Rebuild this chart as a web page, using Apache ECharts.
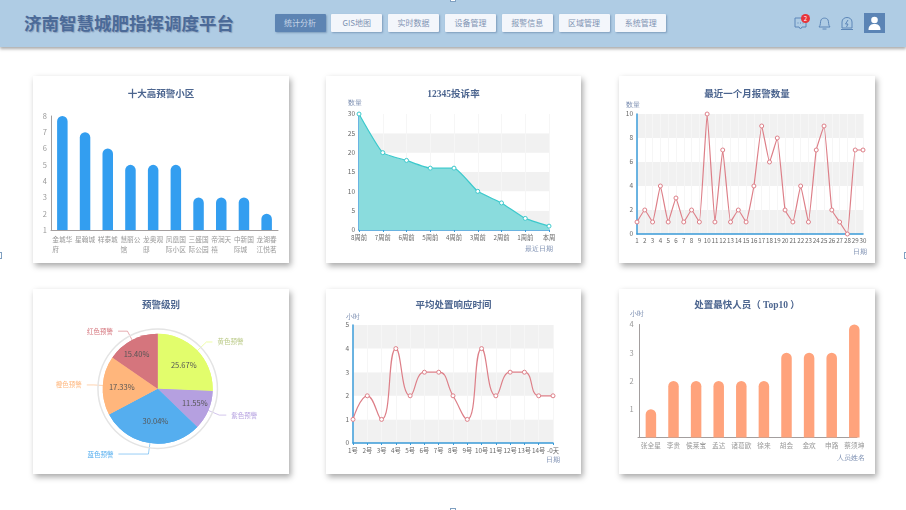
<!DOCTYPE html>
<html>
<head>
<meta charset="utf-8">
<script src="https://cdn.jsdelivr.net/npm/echarts@6/dist/echarts.min.js"></script>
<style>
html, body { margin: 0; padding: 0; background: #fff; width: 906px; height: 510px; overflow: hidden; font-family: "Noto Sans CJK SC", sans-serif; }
#head { position: absolute; left: 0; top: 0; width: 906px; height: 47px; background: #afcce4; box-shadow: 0 2px 3px #aaa; }
#logo { position: absolute; left: 24px; top: 10px; font-size: 17.5px; line-height: 26px; font-weight: bold; color: #4b6a98; text-shadow: 1px 1px 1px #8aa0bd; white-space: nowrap; }
.btn { position: absolute; top: 14px; width: 51px; height: 18px; line-height: 18px; text-align: center; font-size: 8px; color: #7f93b3; background: #f3f6fb; border-radius: 1px; box-shadow: 1px 1px 2px #7d9cbc; }
.btn.on { background: #5d84b3; color: #c6d6e8; }
.card { position: absolute; width: 256px; height: 187px; background: #fff; box-shadow: 2px 3px 6px #a8a8a8; }
.mark { position: absolute; background: #fff; border: 1px solid #7f9fc0; box-sizing: border-box; }
svg { position: absolute; }
#badge { position: absolute; left: 801px; top: 14px; width: 9px; height: 9px; line-height: 9px; border-radius: 5px; background: #e8343a; color: #fff; font-size: 6px; text-align: center; }
#user { position: absolute; left: 864px; top: 13px; width: 21px; height: 20px; background: #5b84b5; }
</style>
</head>
<body>
<div id="head">
  <div id="logo">济南智慧城肥指挥调度平台</div>
  <div id="menu"></div>
  <svg style="left:794px;top:15px" width="14" height="16" viewBox="0 0 14 16"><path d="M1 3h11v9H8l-1.500 2L5 12H1z" fill="none" stroke="#5c86b8" stroke-width="1"/><path d="M3.500 8h1M6 8h1M8.500 8h1" stroke="#5c86b8"/></svg>
  <svg style="left:817px;top:15px" width="15" height="16" viewBox="0 0 15 16"><path d="M2 12c2-2 1-5 2-7 1-2.500 6-2.500 7 0 1 2 0 5 2 7z" fill="none" stroke="#5c86b8" stroke-width="1"/><path d="M5.500 14h4" stroke="#5c86b8"/></svg>
  <svg style="left:840px;top:15px" width="14" height="16" viewBox="0 0 14 16"><path d="M2 13V7c0-6 10-6 10 0v6zM1 14.500h12" fill="none" stroke="#5c86b8"/><path d="M8 5L5.500 9H8L6.500 12" fill="none" stroke="#5c86b8"/></svg>
  <div id="badge">2</div>
  <div id="user"><svg style="left:4px;top:3px" width="13" height="14" viewBox="0 0 13 14"><circle cx="6.500" cy="4" r="3.300" fill="#fff"/><path d="M0.500 14c0-5 3-6 6-6s6 1 6 6z" fill="#fff"/></svg></div>
</div>
<div class="mark" style="left:450px;top:-2px;width:6px;height:4px"></div>
<div class="mark" style="left:450px;top:508px;width:6px;height:4px"></div>
<div class="mark" style="left:-2px;top:252px;width:4px;height:7px"></div>
<div class="mark" style="left:904px;top:252px;width:4px;height:7px"></div>
<div class="card" id="c1" style="left:33px;top:76px"></div>
<div class="card" id="c2" style="left:326px;top:76px;width:255px"></div>
<div class="card" id="c3" style="left:619px;top:76px"></div>
<div class="card" id="c4" style="left:33px;top:289px;height:185px"></div>
<div class="card" id="c5" style="left:326px;top:289px;width:255px;height:185px"></div>
<div class="card" id="c6" style="left:619px;top:289px;height:185px"></div>
<script>
var menuNames = ['统计分析', 'GIS地图', '实时数据', '设备管理', '报警信息', '区域管理', '系统管理'];

var estateNames = ['金城华府', '星翰城', '祥泰城', '慧丽公馆', '龙奥观邸', '凤凰国际小区', '三盛国际公园', '帝润天禧', '中新国际城', '龙湖春江悦茗'];
var estateValues = [8, 7, 6, 5, 5, 5, 3, 3, 3, 2];

var weekNames = ['8周前', '7周前', '6周前', '5周前', '4周前', '3周前', '2周前', '1周前', '本周'];
var weekValues = [30, 20, 18, 16, 16, 10, 7, 3, 1];

var monthDays = ['1', '2', '3', '4', '5', '6', '7', '8', '9', '10', '11', '12', '13', '14', '15', '16', '17', '18', '19', '20', '21', '22', '23', '24', '25', '26', '27', '28', '29', '30'];
var monthValues = [1, 2, 1, 4, 1, 3, 1, 2, 1, 10, 1, 7, 1, 2, 1, 4, 9, 6, 8, 2, 1, 4, 1, 7, 9, 2, 1, 0, 7, 7];

var levelNames = ['黄色预警', '紫色预警', '蓝色预警', '橙色预警', '红色预警'];
var levelValues = [25.67, 11.55, 30.04, 17.33, 15.40];

// pie styling, one entry per level
var levelColors = ['#e2fd6c', '#b5a0e0', '#55aeef', '#ffb67c', '#d5757d'];
var levelTextColors = ['#b9c985', '#b5a0e0', '#55aeef', '#ffb67c', '#d5757d'];
var levelLineLengths = [[12.500, 6], [12, 7], [11, 30], [9, 7], [10, 9.400]];
var levelPercentOffsets = [[4, -2], [9, 2], [2, 2], [-5.500, 0], [-7, -8]];

var responseDays = ['1号', '2号', '3号', '4号', '5号', '6号', '7号', '8号', '9号', '10号', '11号', '12号', '13号', '14号', '-0天'];
var responseValues = [1, 2, 1, 4, 2, 3, 3, 2, 1, 4, 2, 3, 3, 2, 2];

var staffNames = ['张全星', '李贵', '侯莱宝', '孟达', '诸葛欧', '徐来', '胡会', '金欢', '申路', '蔡须坤'];
var staffValues = [1, 2, 2, 2, 2, 2, 3, 3, 3, 4];

var fontName = '"Noto Sans CJK SC", sans-serif';
var nameColor = '#7a8db0';

menuNames.forEach(function (name, i) {
    var b = document.createElement('div');
    b.className = i === 0 ? 'btn on' : 'btn';
    b.style.left = (274.5 + i * 56.8) + 'px';
    b.textContent = name;
    document.getElementById('menu').appendChild(b);
});

function makeTitle(text, top) {
    return {
        text: text,
        left: 'center',
        top: top,
        textStyle: { fontFamily: '"Liberation Serif", "Noto Sans CJK SC", serif', fontSize: 9.500, fontWeight: 'bold', color: '#4c658f' }
    };
}

function axisText(color, size) {
    return { color: color, fontSize: size, fontFamily: fontName, margin: 4 };
}

function render(id, option) {
    option.animation = false;
    echarts.init(document.getElementById(id)).setOption(option);
}

// bar charts share the same look
function barSeries(values, color) {
    return {
        type: 'bar',
        data: values,
        barWidth: 10.5,
        itemStyle: { color: color, borderRadius: [6, 6, 0, 0] }
    };
}

// hollow dots on the line charts
function lineSeries(values, color, smooth) {
    return {
        type: 'line',
        data: values,
        smooth: smooth,
        symbol: 'circle',
        symbolSize: 4,
        lineStyle: { color: color, width: 1.2 },
        itemStyle: { color: '#fff', borderColor: color, borderWidth: 1 }
    };
}

render('c1', {
    title: makeTitle('十大高预警小区', 9),
    grid: { left: 18, right: 11, top: 40, bottom: 33, outerBoundsMode: 'none' },
    xAxis: {
        type: 'category',
        data: estateNames,
        axisTick: { show: false },
        axisLine: { lineStyle: { color: '#a39e9e', width: 1 } },
        axisLabel: {
            margin: 4,
            interval: 0,
            // three characters a line, short lines stay on the left
            formatter: function (v) {
                return v.match(/.{1,3}/g).map(function (s) { return '{a|' + s + '}'; }).join('\n');
            },
            rich: { a: { color: '#999', fontSize: 6.700, fontFamily: fontName, lineHeight: 10, align: 'left' } }
        }
    },
    yAxis: {
        type: 'value',
        min: 1,
        max: 8,
        interval: 1,
        splitLine: { show: false },
        axisTick: { show: false },
        axisLine: { show: true, lineStyle: { color: '#a39e9e', width: 1 } },
        axisLabel: axisText('#999', 7.500)
    },
    series: [barSeries(estateValues, '#339ef0')]
});

var complaintSeries = lineSeries(weekValues, '#3cc9cc', 0.15);
complaintSeries.areaStyle = { color: '#8adcdd', opacity: 1 };

render('c2', {
    title: makeTitle('12345投诉率', 9),
    grid: { left: 33, right: 32, top: 38, bottom: 33, outerBoundsMode: 'none' },
    xAxis: {
        type: 'category',
        boundaryGap: false,
        data: weekNames,
        name: '最近日期',
        nameGap: 4,
        nameTextStyle: { color: nameColor, fontSize: 7, align: 'right', verticalAlign: 'top', padding: [16, 0, 0, 0] },
        axisTick: { show: true, length: 2, lineStyle: { color: '#3a9bd8' } },
        axisLine: { lineStyle: { color: '#3a9bd8', width: 1.500 } },
        axisLabel: axisText('#666', 6.300),
        splitLine: { show: true, lineStyle: { color: '#f6f6f6' } }
    },
    yAxis: {
        type: 'value',
        min: 0,
        max: 30,
        interval: 5,
        name: '数量',
        nameGap: 7,
        nameTextStyle: { color: nameColor, fontSize: 7, padding: [0, 0, 0, -8] },
        axisLine: { show: true, lineStyle: { color: '#3a9bd8', width: 1.500 } },
        axisTick: { show: false },
        axisLabel: axisText('#666', 6.500),
        splitLine: { show: false },
        splitArea: { show: true, areaStyle: { color: ['#f1f1f1', '#fff'] } }
    },
    series: [complaintSeries]
});

render('c3', {
    title: makeTitle('最近一个月报警数量', 9),
    grid: { left: 18, right: 12, top: 38, bottom: 29, outerBoundsMode: 'none' },
    xAxis: {
        type: 'category',
        boundaryGap: false,
        data: monthDays,
        name: '日期',
        nameGap: 4,
        nameTextStyle: { color: nameColor, fontSize: 7, align: 'right', verticalAlign: 'top', padding: [15, 0, 0, 0] },
        axisTick: { show: false },
        axisLine: { lineStyle: { color: '#3a9bd8', width: 1.500 } },
        axisLabel: { color: '#666', fontSize: 6.200, fontFamily: fontName, margin: 4, interval: 0 },
        splitLine: { show: true, lineStyle: { color: '#f6f6f6' } }
    },
    yAxis: {
        type: 'value',
        min: 0,
        max: 10,
        interval: 2,
        name: '数量',
        nameGap: 5,
        nameTextStyle: { color: nameColor, fontSize: 7, padding: [0, 8, 0, 0] },
        axisLine: { show: true, lineStyle: { color: '#3a9bd8', width: 1.500 } },
        axisTick: { show: false },
        axisLabel: axisText('#666', 6.500),
        splitLine: { show: false },
        splitArea: { show: true, areaStyle: { color: ['#f1f1f1', '#fff'] } }
    },
    series: [lineSeries(monthValues, '#dd7f88', 0.1)]
});

var levelData = levelNames.map(function (name, i) {
    return {
        name: name,
        value: levelValues[i],
        itemStyle: { color: levelColors[i] },
        label: { offset: levelPercentOffsets[i] }
    };
});
var levelOuter = levelNames.map(function (name, i) {
    return {
        name: name,
        value: levelValues[i],
        itemStyle: { color: levelColors[i] },
        label: { color: levelTextColors[i] },
        labelLine: {
            length: levelLineLengths[i][0],
            length2: levelLineLengths[i][1],
            lineStyle: { color: levelColors[i], opacity: 0.6 }
        }
    };
});

render('c4', {
    title: makeTitle('预警级别', 7),
    series: [
        {
            type: 'pie',
            center: [124.7, 99.7],
            radius: [59, 60.500],
            silent: true,
            startAngle: 90,
            label: { show: false },
            data: [{ value: 1, itemStyle: { color: '#e4e4e4' } }]
        },
        {
            type: 'pie',
            center: [124.7, 99.7],
            radius: [0, 55],
            startAngle: 90,
            avoidLabelOverlap: false,
            data: levelOuter,
            label: { fontSize: 6.500, fontFamily: fontName, formatter: '{b}' },
            labelLine: { lineStyle: { width: 1 } }
        },
        {
            type: 'pie',
            center: [124.7, 99.7],
            radius: [0, 55],
            startAngle: 90,
            data: levelData,
            label: {
                position: 'inner',
                fontSize: 7.500,
                fontFamily: fontName,
                color: '#555',
                formatter: function (p) { return p.value.toFixed(2) + '%'; }
            },
            labelLine: { show: false }
        }
    ]
});

render('c5', {
    title: makeTitle('平均处置响应时间', 7),
    grid: { left: 27, right: 28, top: 36, bottom: 31, outerBoundsMode: 'none' },
    xAxis: {
        type: 'category',
        boundaryGap: false,
        data: responseDays,
        name: '日期',
        nameGap: 7,
        nameTextStyle: { color: nameColor, fontSize: 7, align: 'right', verticalAlign: 'top', padding: [14, 0, 0, 0] },
        axisTick: { show: true, length: 2, lineStyle: { color: '#3a9bd8' } },
        axisLine: { lineStyle: { color: '#3a9bd8', width: 1.500 } },
        axisLabel: { color: '#666', fontSize: 6.300, fontFamily: fontName, margin: 4, interval: 0 },
        splitLine: { show: true, lineStyle: { color: '#f6f6f6' } }
    },
    yAxis: {
        type: 'value',
        min: 0,
        max: 5,
        interval: 1,
        name: '小时',
        nameGap: 4,
        nameTextStyle: { color: nameColor, fontSize: 7 },
        axisLine: { show: true, lineStyle: { color: '#3a9bd8', width: 1.500 } },
        axisTick: { show: false },
        axisLabel: axisText('#666', 6.500),
        splitLine: { show: false },
        splitArea: { show: true, areaStyle: { color: ['#f1f1f1', '#fff'] } }
    },
    series: [lineSeries(responseValues, '#dd7f88', true)]
});

// the x axis line stops short of the last bar, so it lives on a second empty grid
render('c6', {
    title: makeTitle('处置最快人员（ Top10 ）', 7),
    grid: [
        { left: 20.600, right: 9.400, top: 35.500, bottom: 36.500, outerBoundsMode: 'none' },
        { left: 19, right: 18, top: 35.500, bottom: 36.500, outerBoundsMode: 'none' }
    ],
    xAxis: [
        {
            type: 'category',
            data: staffNames,
            name: '人员姓名',
            nameGap: -1,
            nameTextStyle: { color: nameColor, fontSize: 7, align: 'right', verticalAlign: 'top', padding: [17, 0, 0, 0] },
            axisTick: { show: false },
            axisLine: { show: false },
            axisLabel: { color: '#999', fontSize: 6.700, fontFamily: fontName, margin: 5, interval: 0 }
        },
        {
            type: 'value',
            gridIndex: 1,
            min: 0,
            max: 1,
            axisTick: { show: false },
            axisLabel: { show: false },
            splitLine: { show: false },
            axisLine: { show: true, onZero: false, lineStyle: { color: '#a39e9e', width: 1 } }
        }
    ],
    yAxis: [
        {
            type: 'value',
            min: 0,
            max: 4,
            interval: 1,
            name: '小时',
            nameGap: 7,
            nameTextStyle: { color: nameColor, fontSize: 7, padding: [0, 6, 0, 0] },
            splitLine: { show: false },
            axisTick: { show: false },
            axisLine: { show: true, lineStyle: { color: '#a39e9e', width: 1 } },
            axisLabel: {
                color: '#999',
                fontSize: 7.500,
                fontFamily: fontName,
                margin: 6,
                formatter: function (v) { return v === 0 ? '' : v; }
            }
        },
        {
            type: 'value',
            gridIndex: 1,
            show: false,
            min: 0,
            max: 1
        }
    ],
    series: [barSeries(staffValues, '#ffa37c')]
});
</script>
</body>
</html>
